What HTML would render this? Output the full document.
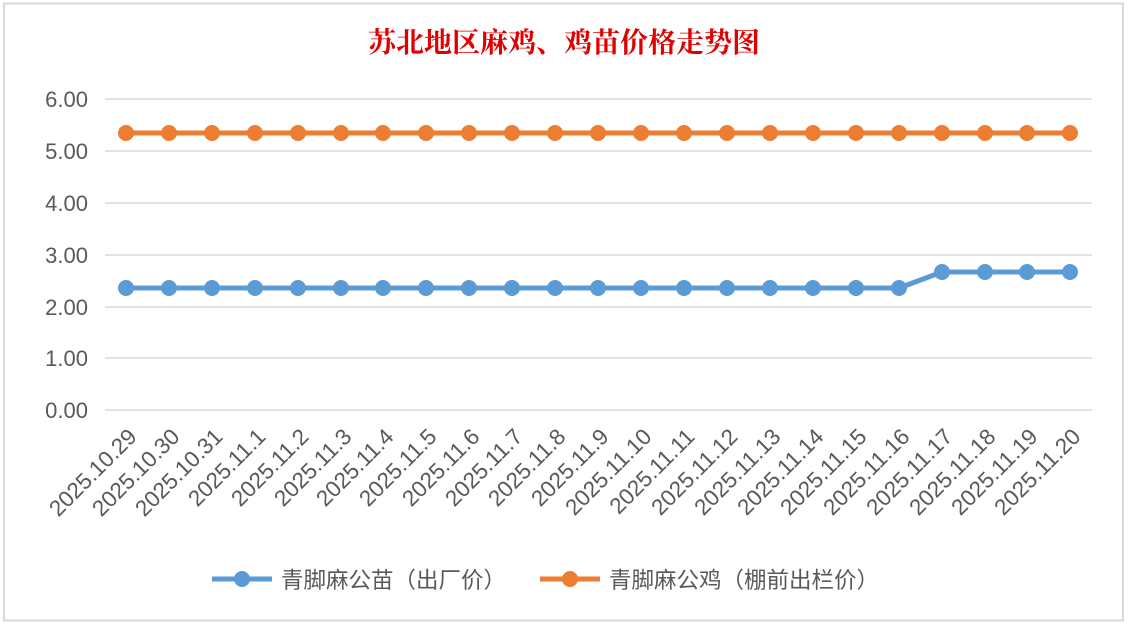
<!DOCTYPE html>
<html><head><meta charset="utf-8"><style>
body{margin:0;width:1128px;height:625px;background:#fff;overflow:hidden}
</style></head><body>
<svg width="1128" height="625" xmlns="http://www.w3.org/2000/svg" font-family="Liberation Sans, Noto Sans CJK SC, sans-serif">
<rect x="4" y="3.5" width="1119" height="617" fill="#fff" stroke="#d9d9d9" stroke-width="2"/>
<text x="564" y="52" text-anchor="middle" fill="#e00000" font-size="28" font-weight="bold" font-family="Noto Serif CJK SC, serif">苏北地区麻鸡、鸡苗价格走势图</text>
<g stroke="#d9d9d9" stroke-width="1.5">
<line x1="105" x2="1092" y1="99" y2="99"/><line x1="105" x2="1092" y1="151" y2="151"/>
<line x1="105" x2="1092" y1="203" y2="203"/><line x1="105" x2="1092" y1="255" y2="255"/>
<line x1="105" x2="1092" y1="307" y2="307"/><line x1="105" x2="1092" y1="358" y2="358"/>
<line x1="105" x2="1092" y1="410" y2="410"/>
</g>
<g fill="#595959" font-size="22" text-anchor="end">
<text x="88" y="107">6.00</text><text x="88" y="159">5.00</text><text x="88" y="211">4.00</text>
<text x="88" y="263">3.00</text><text x="88" y="315">2.00</text><text x="88" y="366">1.00</text><text x="88" y="418">0.00</text>
</g>
<polyline fill="none" stroke="#ed7d31" stroke-width="5" points="126,133 1070,133"/>
<polyline fill="none" stroke="#5b9bd5" stroke-width="5" points="126,288 899,288 942,272 1070,272"/>
<g fill="#595959" font-size="22.5" text-anchor="end">
<text transform="translate(138,438) rotate(-45)">2025.10.29</text>
<text transform="translate(181,438) rotate(-45)">2025.10.30</text>
<text transform="translate(224,438) rotate(-45)">2025.10.31</text>
<text transform="translate(267,438) rotate(-45)">2025.11.1</text>
<text transform="translate(310,438) rotate(-45)">2025.11.2</text>
<text transform="translate(353,438) rotate(-45)">2025.11.3</text>
<text transform="translate(395,438) rotate(-45)">2025.11.4</text>
<text transform="translate(438,438) rotate(-45)">2025.11.5</text>
<text transform="translate(481,438) rotate(-45)">2025.11.6</text>
<text transform="translate(524,438) rotate(-45)">2025.11.7</text>
<text transform="translate(567,438) rotate(-45)">2025.11.8</text>
<text transform="translate(610,438) rotate(-45)">2025.11.9</text>
<text transform="translate(653,438) rotate(-45)">2025.11.10</text>
<text transform="translate(696,438) rotate(-45)">2025.11.11</text>
<text transform="translate(739,438) rotate(-45)">2025.11.12</text>
<text transform="translate(782,438) rotate(-45)">2025.11.13</text>
<text transform="translate(825,438) rotate(-45)">2025.11.14</text>
<text transform="translate(868,438) rotate(-45)">2025.11.15</text>
<text transform="translate(911,438) rotate(-45)">2025.11.16</text>
<text transform="translate(954,438) rotate(-45)">2025.11.17</text>
<text transform="translate(997,438) rotate(-45)">2025.11.18</text>
<text transform="translate(1039,438) rotate(-45)">2025.11.19</text>
<text transform="translate(1082,438) rotate(-45)">2025.11.20</text>
</g>
<g fill="#ed7d31">
<circle cx="126" cy="133" r="8"/><circle cx="169" cy="133" r="8"/><circle cx="212" cy="133" r="8"/><circle cx="255" cy="133" r="8"/><circle cx="298" cy="133" r="8"/><circle cx="341" cy="133" r="8"/><circle cx="383" cy="133" r="8"/><circle cx="426" cy="133" r="8"/><circle cx="469" cy="133" r="8"/><circle cx="512" cy="133" r="8"/><circle cx="555" cy="133" r="8"/><circle cx="598" cy="133" r="8"/><circle cx="641" cy="133" r="8"/><circle cx="684" cy="133" r="8"/><circle cx="727" cy="133" r="8"/><circle cx="770" cy="133" r="8"/><circle cx="813" cy="133" r="8"/><circle cx="856" cy="133" r="8"/><circle cx="899" cy="133" r="8"/><circle cx="942" cy="133" r="8"/><circle cx="985" cy="133" r="8"/><circle cx="1027" cy="133" r="8"/><circle cx="1070" cy="133" r="8"/>
</g>
<g fill="#5b9bd5">
<circle cx="126" cy="288" r="8"/><circle cx="169" cy="288" r="8"/><circle cx="212" cy="288" r="8"/><circle cx="255" cy="288" r="8"/><circle cx="298" cy="288" r="8"/><circle cx="341" cy="288" r="8"/><circle cx="383" cy="288" r="8"/><circle cx="426" cy="288" r="8"/><circle cx="469" cy="288" r="8"/><circle cx="512" cy="288" r="8"/><circle cx="555" cy="288" r="8"/><circle cx="598" cy="288" r="8"/><circle cx="641" cy="288" r="8"/><circle cx="684" cy="288" r="8"/><circle cx="727" cy="288" r="8"/><circle cx="770" cy="288" r="8"/><circle cx="813" cy="288" r="8"/><circle cx="856" cy="288" r="8"/><circle cx="899" cy="288" r="8"/><circle cx="942" cy="272" r="8"/><circle cx="985" cy="272" r="8"/><circle cx="1027" cy="272" r="8"/><circle cx="1070" cy="272" r="8"/>
</g>
<line x1="212" x2="272" y1="579" y2="579" stroke="#5b9bd5" stroke-width="5"/><circle cx="242" cy="579" r="8" fill="#5b9bd5"/>
<text x="281" y="588" fill="#595959" font-size="22.5">青脚麻公苗（出厂价）</text>
<line x1="540" x2="600" y1="579" y2="579" stroke="#ed7d31" stroke-width="5"/><circle cx="570" cy="579" r="8" fill="#ed7d31"/>
<text x="609" y="588" fill="#595959" font-size="22.5">青脚麻公鸡（棚前出栏价）</text>
</svg>
</body></html>
